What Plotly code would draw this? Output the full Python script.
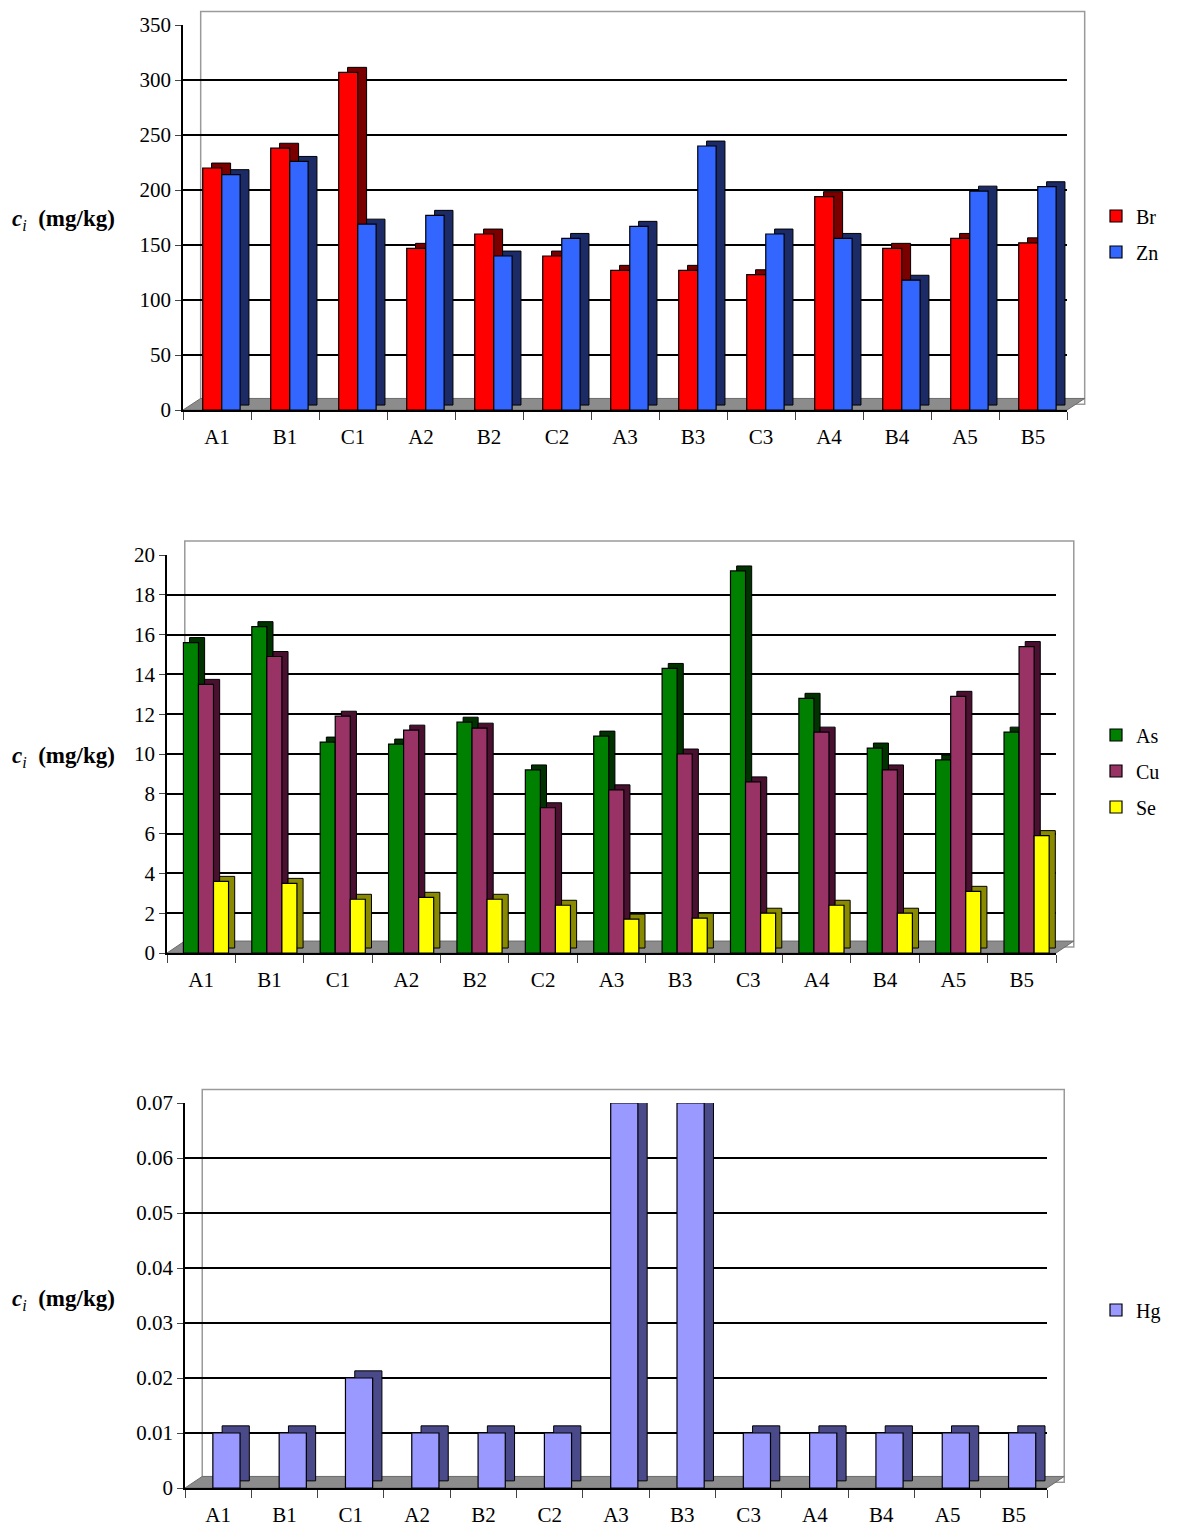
import plotly.graph_objects as go

sites = ["A1", "B1", "C1", "A2", "B2", "C2", "A3", "B3", "C3", "A4", "B4", "A5", "B5"]

br = [220, 238, 307, 147, 160, 140, 127, 127, 123, 194, 147, 156, 152]
zn = [214, 226, 169, 177, 140, 156, 167, 240, 160, 156, 118, 199, 203]

as_ = [15.6, 16.4, 10.6, 10.5, 11.6, 9.2, 10.9, 14.3, 19.2, 12.8, 10.3, 9.7, 11.1]
cu = [13.5, 14.9, 11.9, 11.2, 11.3, 7.3, 8.2, 10.0, 8.6, 11.1, 9.2, 12.9, 15.4]
se = [3.6, 3.5, 2.7, 2.8, 2.7, 2.4, 1.7, 1.75, 2.0, 2.4, 2.0, 3.1, 5.9]

hg = [0.01, 0.01, 0.02, 0.01, 0.01, 0.01, 0.07, 0.07, 0.01, 0.01, 0.01, 0.01, 0.01]

FONT = "Liberation Serif"
W, H = 1181, 1534
PAGE_OFFSET = 8  # browser body margin

fig = go.Figure()

panels = [
    # (axis suffix, legend name, series list, y range, dtick, depth dx, depth dy)
    ("", "legend", [("Br", br, "#ff0000", "#7a0000", -0.21, 0.28),
                    ("Zn", zn, "#3366ff", "#1c2a66", 0.07, 0.27)],
     [0, 350], 50, 0.13, 4.5),
    ("2", "legend2", [("As", as_, "#008000", "#003300", -0.26, 0.22),
                      ("Cu", cu, "#993366", "#4a1030", -0.04, 0.22),
                      ("Se", se, "#ffff00", "#8a8a00", 0.18, 0.22)],
     [0, 20], 2, 0.09, 0.25),
    ("3", "legend3", [("Hg", hg, "#9999ff", "#4a4a8a", -0.08, 0.41)],
     [0, 0.07], 0.01, 0.14, 0.0013),
]

for suf, leg, series, yr, dt, dx, dy in panels:
    xa = "x" + suf
    ya = "y" + suf
    # depth (side/top) faces first
    for name, vals, col, dark, off, wid in series:
        fig.add_trace(go.Bar(
            x=sites, y=vals, base=dy, offset=off + dx, width=wid,
            marker=dict(color=dark, line=dict(color="black", width=1)),
            xaxis=xa, yaxis=ya, showlegend=False, hoverinfo="skip"))
    for name, vals, col, dark, off, wid in series:
        fig.add_trace(go.Bar(
            x=sites, y=vals, offset=off, width=wid, name=name,
            marker=dict(color=col, line=dict(color="black", width=1.2)),
            xaxis=xa, yaxis=ya, legend=leg, legendgroup=name))


def px_x(p):
    return (p - PAGE_OFFSET) / W


def px_y(p):
    return 1 - (p - PAGE_OFFSET) / H


axes_px = [
    # (x0, x1, y_zero, y_top)
    (183, 1067, 410, 25),
    (167, 1056, 953, 555),
    (185, 1047, 1488, 1103),
]

layout = dict(
    width=W, height=H,
    margin=dict(l=0, r=0, t=0, b=0, autoexpand=False),
    paper_bgcolor="white", plot_bgcolor="white",
    barmode="overlay",
    font=dict(family=FONT, size=19, color="black"),
    shapes=[], annotations=[],
)

axis_common_x = dict(
    type="category", tickson="boundaries", ticks="outside", ticklen=8,
    ticklabelstandoff=7,
    showline=True, linecolor="black", linewidth=1.5, showgrid=False,
    automargin=False,
    tickfont=dict(family=FONT, size=21, color="black"), fixedrange=True,
)
axis_common_y = dict(
    ticks="outside", ticklen=6, showline=True, linecolor="black", linewidth=1.5,
    showgrid=True, gridcolor="black", gridwidth=1.5, zeroline=False,
    automargin=False,
    tickfont=dict(family=FONT, size=21, color="black"), fixedrange=True,
)

ylabel_px = [220, 757, 1300]
legend_y_px = [234, 771, 1310]

for i, ((x0, x1, yz, yt), (suf, leg, series, yr, dt, dx, dy)) in enumerate(zip(axes_px, panels)):
    xname = "xaxis" + suf
    yname = "yaxis" + suf
    xa = dict(axis_common_x, domain=[px_x(x0), px_x(x1)], anchor="y" + suf)
    ya = dict(axis_common_y, domain=[px_y(yz), px_y(yt)], range=yr, dtick=dt,
              anchor="x" + suf)
    layout[xname] = xa
    layout[yname] = ya
    xref = ("x" + suf) + " domain"
    yref = ("y" + suf) + " domain"
    # back wall outline
    layout["shapes"].append(dict(type="rect", xref=xref, yref=yref,
                                 x0=0.02, x1=1.02, y0=0.015, y1=1.035,
                                 line=dict(color="#9a9a9a", width=1.5), layer="below"))
    # floor
    layout["shapes"].append(dict(type="path", xref=xref, yref=yref,
                                 path="M 0,0 L 1.0,0 L 1.02,0.03 L 0.02,0.03 Z",
                                 fillcolor="#8c8c8c", line=dict(color="#6a6a6a", width=1),
                                 layer="below"))
    layout["annotations"].append(dict(
        xref="paper", yref="paper", x=px_x(10), y=px_y(ylabel_px[i]),
        xanchor="left", yanchor="middle", showarrow=False,
        text="<b><i>c</i></b><sub><i>i</i></sub>&nbsp;&nbsp;<b>(mg/kg)</b>",
        font=dict(family=FONT, size=23, color="black")))
    layout["legend" if i == 0 else "legend%d" % (i + 1)] = dict(
        x=px_x(1096), y=px_y(legend_y_px[i]), xanchor="left", yanchor="middle",
        bgcolor="rgba(0,0,0,0)", font=dict(family=FONT, size=20, color="black"),
        tracegroupgap=7, itemwidth=30)

fig.update_layout(**layout)
fig.write_html("out.html")
